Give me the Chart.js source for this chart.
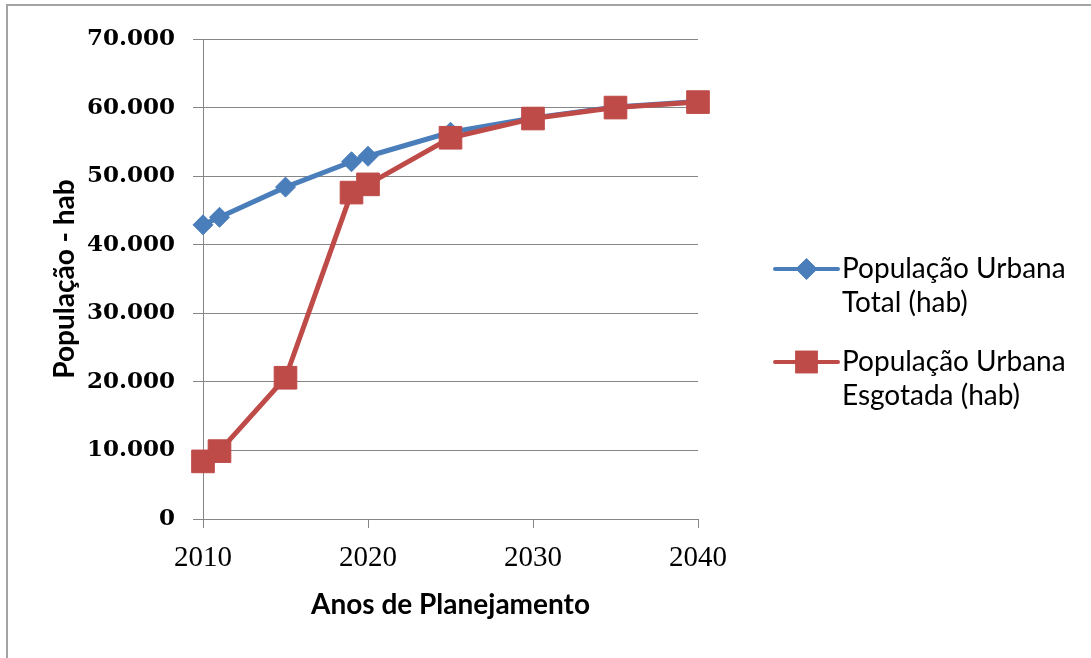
<!DOCTYPE html>
<html lang="pt-BR">
<head>
<meta charset="utf-8">
<title>População Urbana</title>
<script src="https://cdn.jsdelivr.net/npm/chart.js@4.4.1/dist/chart.umd.min.js"></script>
<style>
  html, body { margin: 0; padding: 0; background: #fff; overflow: hidden; }
  #wrap { position: relative; width: 1091px; height: 658px; }
  #frame {
    position: absolute; left: 6px; top: 4px; width: 1200px; height: 800px;
    border-left: 2px solid #a4a4a4; border-top: 2px solid #a4a4a4;
  }
  #chart { position: absolute; left: 0; top: 0; }
</style>
</head>
<body>
<div id="wrap">
  <div id="frame"></div>
  <canvas id="chart" width="1091" height="658"></canvas>
</div>
<script>
// Anos de planejamento
const years = [2010, 2011, 2015, 2019, 2020, 2025, 2030, 2035, 2040];
// População urbana total (hab)
const totalPop = [42900, 44000, 48400, 52100, 52900, 56400, 58500, 60100, 60900];
// População urbana atendida por esgotamento (hab)
const seweredPop = [8400, 9900, 20600, 47600, 48800, 55600, 58400, 60000, 60800];

const seriesNames = [
  ['População Urbana', 'Total (hab)'],
  ['População Urbana', 'Esgotada (hab)']
];
const xTicks = [2010, 2020, 2030, 2040];
const yTicks = [0, 10000, 20000, 30000, 40000, 50000, 60000, 70000];

const BLUE = '#4a7ebb';
const RED = '#be4b48';
const GRID = '#868686';

function fmtThousands(v) {
  return String(v).replace(/\B(?=(\d{3})+(?!\d))/g, '.');
}

function toPoints(values) {
  return years.map((yr, i) => ({ x: yr, y: values[i] }));
}

// Legenda à direita, com rótulos em duas linhas
const sideLegend = {
  id: 'sideLegend',
  afterDraw(chart) {
    const ctx = chart.ctx;
    const lineX0 = 775, lineX1 = 838, textX = 842;
    const firstY = [269, 362];
    const lineGap = 34;
    ctx.save();
    chart.data.datasets.forEach((ds, i) => {
      const y = firstY[i];
      ctx.strokeStyle = ds.borderColor;
      ctx.lineWidth = 4;
      ctx.lineCap = 'round';
      ctx.beginPath();
      ctx.moveTo(lineX0, y);
      ctx.lineTo(lineX1, y);
      ctx.stroke();
      const cx = (lineX0 + lineX1) / 2;
      Chart.helpers.drawPoint(ctx, {
        pointStyle: ds.pointStyle,
        radius: i === 0 ? 8 : 13,
        borderWidth: 1
      }, cx, y);
      ctx.fillStyle = ds.pointBackgroundColor;
      ctx.strokeStyle = ds.pointBorderColor;
      ctx.fill();
      ctx.stroke();

      ctx.fillStyle = '#000';
      ctx.font = '28px Lato, "Open Sans", sans-serif';
      ctx.textBaseline = 'middle';
      ctx.textAlign = 'left';
      seriesNames[i].forEach((t, k) => ctx.fillText(t, textX, y + k * lineGap));
    });
    ctx.restore();
  }
};

new Chart(document.getElementById('chart'), {
  type: 'line',
  data: {
    datasets: [
      {
        label: seriesNames[0].join(' '),
        data: toPoints(totalPop),
        borderColor: BLUE,
        backgroundColor: BLUE,
        pointBackgroundColor: BLUE,
        pointBorderColor: BLUE,
        borderWidth: 5,
        pointStyle: 'rectRot',
        pointRadius: 10,
        pointBorderWidth: 1,
        tension: 0,
        clip: false,
        order: 2
      },
      {
        label: seriesNames[1].join(' '),
        data: toPoints(seweredPop),
        borderColor: RED,
        backgroundColor: RED,
        pointBackgroundColor: RED,
        pointBorderColor: RED,
        borderWidth: 5,
        pointStyle: 'rect',
        pointRadius: 16,
        pointBorderWidth: 1,
        tension: 0,
        clip: false,
        order: 1
      }
    ]
  },
  options: {
    responsive: false,
    animation: false,
    devicePixelRatio: 1,
    layout: { padding: { left: 0, top: 39, right: 393, bottom: 0 } },
    plugins: {
      legend: { display: false },
      tooltip: { enabled: false }
    },
    scales: {
      x: {
        type: 'linear',
        min: 2010,
        max: 2040,
        afterBuildTicks(scale) { scale.ticks = xTicks.map(v => ({ value: v })); },
        afterFit(scale) { scale.height = 139; },
        ticks: {
          color: '#000',
          padding: 13,
          maxRotation: 0,
          font: { family: '"Liberation Serif", serif', size: 29 },
          callback: v => String(v)
        },
        grid: {
          drawOnChartArea: false,
          drawTicks: true,
          tickLength: 9,
          color: GRID,
          lineWidth: 1
        },
        border: { display: true, color: GRID, width: 1 },
        title: {
          display: true,
          text: 'Anos de Planejamento',
          color: '#000',
          font: { family: 'Lato, "Open Sans", sans-serif', size: 28, weight: 'bold' },
          padding: { top: 0, bottom: 36 }
        }
      },
      y: {
        min: 0,
        max: 70000,
        afterBuildTicks(scale) { scale.ticks = yTicks.map(v => ({ value: v })); },
        afterFit(scale) { scale.width = 203; },
        ticks: {
          color: '#000',
          padding: 18,
          font: { family: '"DejaVu Serif", serif', size: 23, weight: 'bold' },
          callback: v => fmtThousands(v)
        },
        grid: {
          drawTicks: true,
          tickLength: 10,
          color: GRID,
          lineWidth: 1
        },
        border: { display: true, color: GRID, width: 1 },
        title: {
          display: true,
          text: 'População - hab',
          color: '#000',
          font: { family: 'Lato, "Open Sans", sans-serif', size: 28, weight: 'bold' },
          padding: { top: 48, bottom: 0 }
        }
      }
    }
  },
  plugins: [sideLegend]
});
</script>
</body>
</html>
